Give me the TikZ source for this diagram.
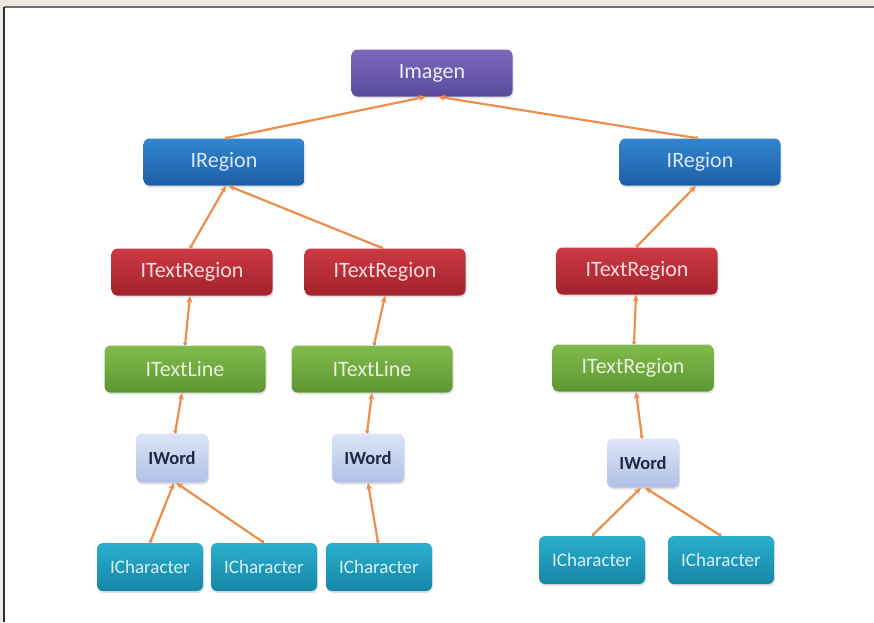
\documentclass[tikz,border=0pt]{standalone}
\usepackage{fontspec}
\newfontfamily\boxfont{Carlito}
\usetikzlibrary{arrows.meta,shadows,calc}

\definecolor{pagebg}{HTML}{ECE9E0}
\definecolor{framedark}{HTML}{2C2C34}
\definecolor{frametop}{HTML}{707070}
\definecolor{link}{HTML}{EE8E4C}
\definecolor{purpleT}{HTML}{7A69BC}
\definecolor{purpleB}{HTML}{5A4A9E}
\definecolor{blueT}{HTML}{3385D0}
\definecolor{blueB}{HTML}{1C5FA6}
\definecolor{redT}{HTML}{CC3A44}
\definecolor{redB}{HTML}{A2212B}
\definecolor{greenT}{HTML}{82BC4C}
\definecolor{greenB}{HTML}{5C9632}
\definecolor{wordT}{HTML}{DCE4F7}
\definecolor{wordB}{HTML}{B0C0E6}
\definecolor{tealT}{HTML}{2AAECD}
\definecolor{tealB}{HTML}{1586A6}
\definecolor{wordtext}{HTML}{1E2A40}

\begin{document}
\begin{tikzpicture}[x=1pt,y=-1pt,
  box/.style={rounded corners=6pt, inner sep=0pt,
    font=\boxfont\fontsize{22}{24}\selectfont,
    drop shadow={opacity=0.22, shadow xshift=1pt, shadow yshift=-2pt}},
  bigbox/.style={box, minimum width=161pt, minimum height=47pt},
  imgbox/.style={bigbox, top color=purpleT, bottom color=purpleB, text=white!88!purpleT},
  regbox/.style={bigbox, top color=blueT, bottom color=blueB, text=white!82!blueT},
  trbox/.style={bigbox, top color=redT, bottom color=redB, text=white!82!redT},
  tlbox/.style={bigbox, top color=greenT, bottom color=greenB, text=white!80!greenT},
  wordbox/.style={box, minimum width=72pt, minimum height=49pt,
    top color=wordT, bottom color=wordB, text=wordtext,
    font=\boxfont\bfseries\fontsize{18.5}{20}\selectfont},
  charbox/.style={box, minimum width=106pt, minimum height=48pt,
    top color=tealT, bottom color=tealB, text=white!82!tealT,
    font=\boxfont\fontsize{19}{21}\selectfont},
  link/.style={draw=link, line width=2.2pt,
    {Circle[length=3.5pt]}-{Stealth[length=7pt,width=6pt]}}
]
\useasboundingbox (0,0) rectangle (874,622);
% page and panel
\fill[pagebg] (0,0) rectangle (874,622);
\fill[white] (4,7) rectangle (874,622);
\draw[frametop, line width=2pt] (4,7) -- (874,7);
\draw[framedark, line width=2.5pt] (4,7) -- (4,622);

% boxes
\node[imgbox] (img) at (432,73) {Imagen};
\node[regbox] (regL) at (224,162) {IRegion};
\node[regbox] (regR) at (700,162) {IRegion};
\node[trbox] (trA) at (192,272) {ITextRegion};
\node[trbox] (trB) at (385,272) {ITextRegion};
\node[trbox] (trC) at (637,271) {ITextRegion};
\node[tlbox] (tlA) at (185,369) {ITextLine};
\node[tlbox] (tlB) at (372,369) {ITextLine};
\node[tlbox] (tlC) at (633,368) {ITextRegion};
\node[wordbox] (wA) at (172,458) {IWord};
\node[wordbox] (wB) at (368,458) {IWord};
\node[wordbox] (wC) at (643,463) {IWord};
\node[charbox] (cA) at (150,567) {ICharacter};
\node[charbox] (cB) at (264,567) {ICharacter};
\node[charbox] (cC) at (379,567) {ICharacter};
\node[charbox] (cD) at (592,560) {ICharacter};
\node[charbox] (cE) at (721,560) {ICharacter};

% connectors: child -> parent
\draw[link] ($(regL.north)+(1,0)$) -- ($(img.south)+(-6,0)$);
\draw[link] ($(regR.north)+(-2,0)$) -- ($(img.south)+(6,0)$);
\draw[link] ($(trA.north)+(-2,0)$) -- ($(regL.south)+(2,0)$);
\draw[link] ($(trB.north)+(-2,0)$) -- ($(regL.south)+(4,0)$);
\draw[link] ($(trC.north)+(-1,0)$) -- ($(regR.south)+(-4,0)$);
\draw[link] ($(tlA.north)+(0,0)$) -- ($(trA.south)+(-2,0)$);
\draw[link] ($(tlB.north)+(2,0)$) -- ($(trB.south)+(0,0)$);
\draw[link] ($(tlC.north)+(1,0)$) -- ($(trC.south)+(-1,0)$);
\draw[link] ($(wA.north)+(3,0)$) -- ($(tlA.south)+(-3,0)$);
\draw[link] ($(wB.north)+(-1,0)$) -- ($(tlB.south)+(0,0)$);
\draw[link] ($(wC.north)+(-1,0)$) -- ($(tlC.south)+(3,0)$);
\draw[link] ($(cA.north)+(0,0)$) -- ($(wA.south)+(2,0)$);
\draw[link] ($(cB.north)+(0,0)$) -- ($(wA.south)+(4,0)$);
\draw[link] ($(cC.north)+(-1,0)$) -- ($(wB.south)+(0,0)$);
\draw[link] ($(cD.north)+(0,0)$) -- ($(wC.south)+(-2,0)$);
\draw[link] ($(cE.north)+(0,0)$) -- ($(wC.south)+(2,0)$);
\end{tikzpicture}
\end{document}
